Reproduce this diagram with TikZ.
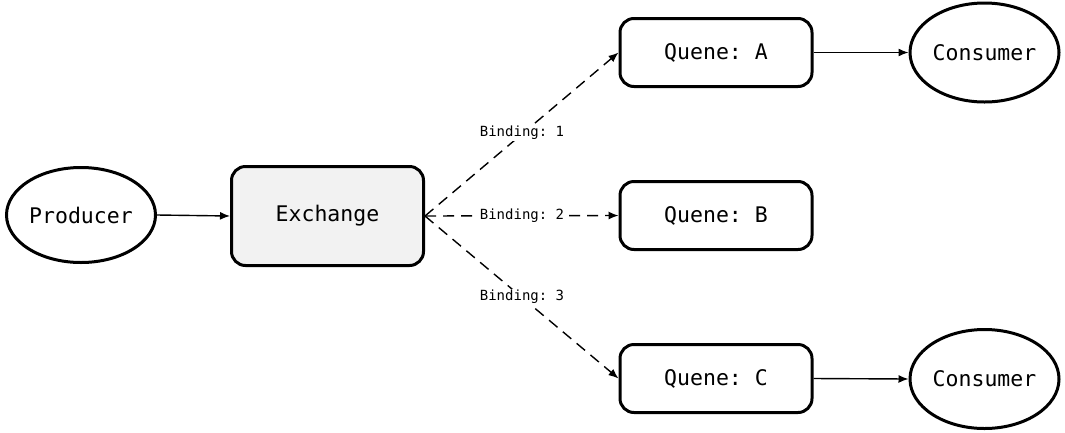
\documentclass[tikz,border=0pt]{standalone}
\usepackage{fontspec}
\setmonofont{DejaVu Sans Mono}
\usetikzlibrary{shapes.geometric,arrows.meta}
\tikzset{
  ell/.style={ellipse, draw, line width=3pt, minimum width=149pt, minimum height=95pt, inner sep=0pt, font=\ttfamily\fontsize{21.5}{23}\selectfont},
  box/.style={rectangle, rounded corners=14pt, draw, line width=3pt, minimum width=192pt, inner sep=0pt, font=\ttfamily\fontsize{21.5}{23}\selectfont},
  conn/.style={line width=1.4pt, -{Latex[length=10pt,width=8pt]}},
  bind/.style={conn, dash pattern=on 11pt off 7pt},
  lab/.style={fill=white, inner sep=1pt, font=\ttfamily\fontsize{14}{16}\selectfont}
}
\begin{document}
\begin{tikzpicture}[x=1pt,y=-1pt]
\useasboundingbox (0,0) rectangle (1065,432);
\node[ell] (prod) at (81,215) {Producer};
\node[box, fill=black!5, minimum height=99pt] (ex) at (327.5,216) {Exchange};
\node[box, minimum height=68pt] (qa) at (716,52.5) {Quene: A};
\node[box, minimum height=68pt] (qb) at (716,215.5) {Quene: B};
\node[box, minimum height=68pt] (qc) at (716,378.5) {Quene: C};
\node[ell, minimum height=99pt] (ca) at (984.5,52.5) {Consumer};
\node[ell, minimum height=99pt] (cc) at (984.5,379) {Consumer};
\draw[conn] (prod.east) -- (ex.west);
\draw[conn] (qa.east) -- (ca.west);
\draw[conn] (qc.east) -- (cc.west);
\draw[bind] (ex.east) -- (qa.west);
\draw[bind] (ex.east) -- (qb.west);
\draw[bind] (ex.east) -- (qc.west);
\node[lab] (b1) at (522,133) {Binding: 1};
\node[lab] (b2) at (522,215.5) {Binding: 2};
\node[lab] (b3) at (522,297) {Binding: 3};
\end{tikzpicture}
\end{document}
